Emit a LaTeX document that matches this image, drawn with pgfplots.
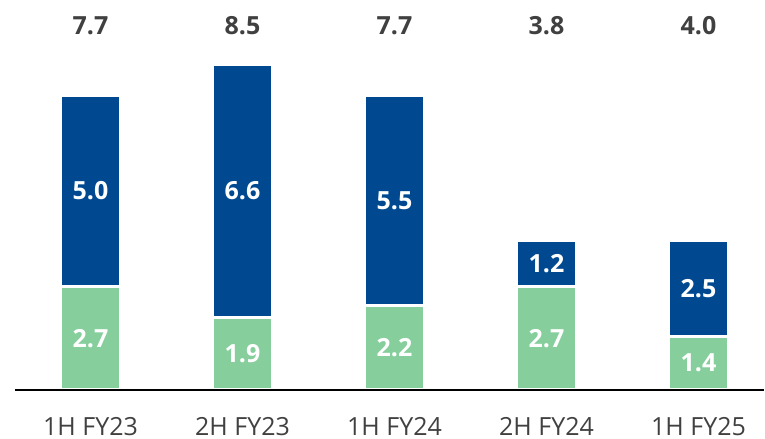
\documentclass[border=0pt]{standalone}
\usepackage{pgfplots}
\pgfplotsset{compat=1.18}
\usepackage{fontspec}
\setmainfont{Open Sans}
\definecolor{barblue}{RGB}{0,73,144}
\definecolor{bargreen}{RGB}{134,206,156}
\definecolor{txtgrey}{RGB}{64,64,64}
\begin{document}
\begin{tikzpicture}
\useasboundingbox (0,0) rectangle (765bp,439bp);
\begin{axis}[
  at={(15bp,49bp)}, anchor=south west,
  scale only axis, width=749bp, height=383bp,
  xmin=-0.4967, xmax=4.431, ymin=0, ymax=10,
  axis x line*=bottom, axis y line=none,
  axis line style={line width=1.5bp, black},
  axis on top,
  xtick={0,1,2,3,4},
  xticklabels={1H FY23,2H FY23,1H FY24,2H FY24,1H FY25},
  major tick length=0pt,
  xticklabel style={anchor=base, inner sep=0pt, yshift=-45bp, text=txtgrey, font=\fontsize{25bp}{30bp}\selectfont},
  ytick=\empty,
  clip=false,
]
% blue: total height (green + blue)
\addplot[ybar, bar width=60bp, bar shift=0pt, fill=barblue, draw=white, line width=3bp]
  coordinates {(0,7.7) (1,8.5) (2,7.7) (3,3.9) (4,3.9)};
% green: lower segment
\addplot[ybar, bar width=60bp, bar shift=0pt, fill=bargreen, draw=white, line width=3bp]
  coordinates {(0,2.7) (1,1.9) (2,2.2) (3,2.7) (4,1.4)};
% segment labels (green)
\addplot[draw=none, mark=none, nodes near coords, point meta=explicit symbolic,
  every node near coord/.append style={anchor=center, text=white, font=\bfseries\fontsize{25bp}{30bp}\selectfont}]
  coordinates {(0,1.35)[2.7] (1,0.95)[1.9] (2,1.1)[2.2] (3,1.35)[2.7] (4,0.7)[1.4]};
% segment labels (blue)
\addplot[draw=none, mark=none, nodes near coords, point meta=explicit symbolic,
  every node near coord/.append style={anchor=center, text=white, font=\bfseries\fontsize{25bp}{30bp}\selectfont}]
  coordinates {(0,5.2)[5.0] (1,5.2)[6.6] (2,4.95)[5.5] (3,3.3)[1.2] (4,2.65)[2.5]};
% totals
\addplot[draw=none, mark=none, nodes near coords, point meta=explicit symbolic,
  every node near coord/.append style={anchor=base, text=txtgrey, font=\bfseries\fontsize{25bp}{30bp}\selectfont}]
  coordinates {(0,9.27)[7.7] (1,9.27)[8.5] (2,9.27)[7.7] (3,9.27)[3.8] (4,9.27)[4.0]};
\end{axis}
\end{tikzpicture}
\end{document}
